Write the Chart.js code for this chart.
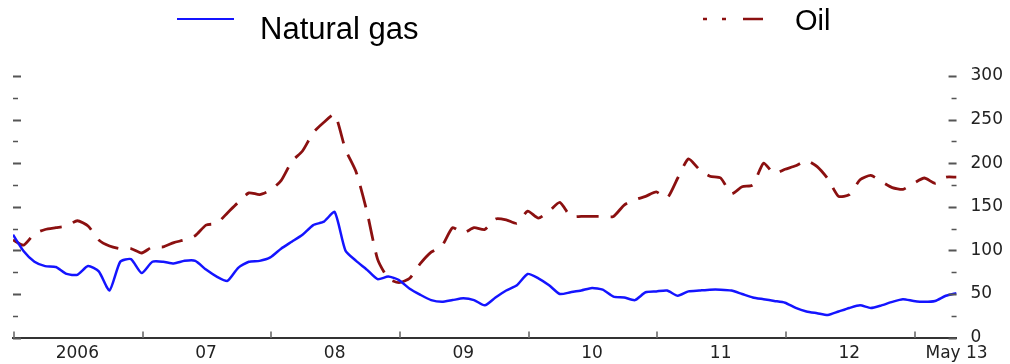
<!DOCTYPE html>
<html>
<head>
<meta charset="utf-8">
<script src="https://cdn.jsdelivr.net/npm/chart.js@4.4.1/dist/chart.umd.min.js"></script>
<style>
  body { margin: 0; background: #fff; }
  #wrap { position: relative; width: 1010px; height: 364px; }
  .leg { position: absolute; font-family: "Liberation Sans", Arial, sans-serif; font-size: 29px; line-height: 29px; color: #000; white-space: nowrap; }
  .sw { position: absolute; }
</style>
</head>
<body>
<div id="wrap">
  <canvas id="chart" width="1010" height="364"></canvas>
  <svg class="sw" style="left:177px;top:14px" width="60" height="10">
    <line x1="0" y1="5" x2="57" y2="5" stroke="#1414ff" stroke-width="2"/>
  </svg>
  <div class="leg" style="left:260px;top:13px;font-size:31px;line-height:31px">Natural gas</div>
  <svg class="sw" style="left:700px;top:14px" width="66" height="10">
    <line x1="3" y1="5" x2="63" y2="5" stroke="#8b1010" stroke-width="2.5" stroke-dasharray="4 15 4 17 20"/>
  </svg>
  <div class="leg" style="left:795px;top:6px">Oil</div>
</div>
<script>
// monthly index, Jan 2006 = 0 ... May 2013 = 88
const gas = [
  118, 99, 87, 82, 81, 73, 72, 82, 76, 54, 87, 90,
  74, 87, 87, 85, 88, 88, 78, 70, 65, 80, 87, 88,
  92, 102, 110, 118, 129, 133, 144, 100, 88, 78, 67, 70,
  66, 56, 49, 43, 41, 43, 45, 43, 37, 46, 54, 60,
  73, 68, 60, 50, 52, 54, 57, 55, 47, 46, 43, 52,
  53, 54, 48, 53, 54, 55, 55, 54, 50, 46, 44, 42,
  40, 34, 30, 28, 26, 30, 34, 37, 34, 37, 41, 44,
  42, 41, 42, 48, 51
];
const oil = [
  112, 106, 119, 124, 126, 128, 134, 128, 112, 105, 102, 102,
  97, 104, 104, 109, 112, 117, 129, 131, 143, 155, 166, 164,
  169, 180, 202, 214, 235, 247, 256, 216, 190, 145, 90, 68,
  63, 68, 85, 98, 105, 126, 120, 126, 124, 136, 135, 131,
  145, 137, 145, 155, 139, 139, 139, 139, 139, 152, 158, 162,
  167, 160, 183, 205, 193, 185, 183, 165, 173, 175, 200, 188,
  193, 197, 203, 196, 182, 162, 164, 181, 186, 179, 172, 170,
  177, 183, 177, 184, 184
];
const yearStarts = [0, 12, 24, 36, 48, 60, 72, 84];
const xLabels = ['2006', '07', '08', '09', '10', '11', '12', 'May 13'];
const xLabelPos = [6, 18, 30, 42, 54, 66, 78, 88];

const toPoints = arr => arr.map((v, i) => ({ x: i, y: v }));

// tick marks drawn inward, as in the original
const insideTicks = {
  id: 'insideTicks',
  afterDraw(chart) {
    const { ctx, chartArea: a, scales } = chart;
    ctx.save();
    ctx.strokeStyle = '#555';
    scales.y.ticks.forEach(t => {
      const y = Math.round(scales.y.getPixelForValue(t.value)) + 0.5;
      const len = t.value % 50 === 0 ? 8 : 5;
      ctx.lineWidth = t.value % 50 === 0 ? 2 : 1.5;
      ctx.beginPath();
      ctx.moveTo(a.left, y); ctx.lineTo(a.left + len, y);
      ctx.moveTo(a.right, y); ctx.lineTo(a.right - len, y);
      ctx.stroke();
    });
    ctx.strokeStyle = '#888';
    ctx.lineWidth = 2;
    yearStarts.forEach(v => {
      const x = Math.round(scales.x.getPixelForValue(v)) + 1;
      ctx.beginPath();
      ctx.moveTo(x, a.bottom); ctx.lineTo(x, a.bottom - 6);
      ctx.stroke();
    });
    ctx.restore();
  }
};

new Chart(document.getElementById('chart'), {
  type: 'line',
  data: {
    datasets: [
      {
        label: 'Natural gas',
        data: toPoints(gas),
        borderColor: '#1414ff',
        borderWidth: 2.5,
        pointRadius: 0,
        tension: 0.2
      },
      {
        label: 'Oil',
        data: toPoints(oil),
        borderColor: '#8b1010',
        borderWidth: 2.8,
        borderDash: [22, 12],
        pointRadius: 0,
        tension: 0.2
      }
    ]
  },
  options: {
    responsive: false,
    animation: false,
    layout: { padding: { left: 13, right: -7, top: 76, bottom: -6 } },
    plugins: { legend: { display: false }, tooltip: { enabled: false } },
    scales: {
      x: {
        type: 'linear',
        min: 0,
        max: 88,
        afterBuildTicks: axis => { axis.ticks = xLabelPos.map(v => ({ value: v })); },
        ticks: {
          autoSkip: false,
          maxRotation: 0,
          padding: 6,
          color: '#222',
          font: { family: 'DejaVu Sans', size: 17 },
          callback: (v, i) => xLabels[i]
        },
        grid: { drawOnChartArea: false, drawTicks: false },
        border: { display: true, color: '#333', width: 2 }
      },
      y: {
        position: 'right',
        min: 0,
        max: 300,
        ticks: {
          stepSize: 25,
          autoSkip: false,
          padding: 14,
          color: '#222',
          font: { family: 'DejaVu Sans', size: 17 },
          callback: v => (v % 50 === 0 ? v : '')
        },
        grid: { drawOnChartArea: false, drawTicks: false },
        border: { display: false }
      }
    }
  },
  plugins: [insideTicks]
});
</script>
</body>
</html>
